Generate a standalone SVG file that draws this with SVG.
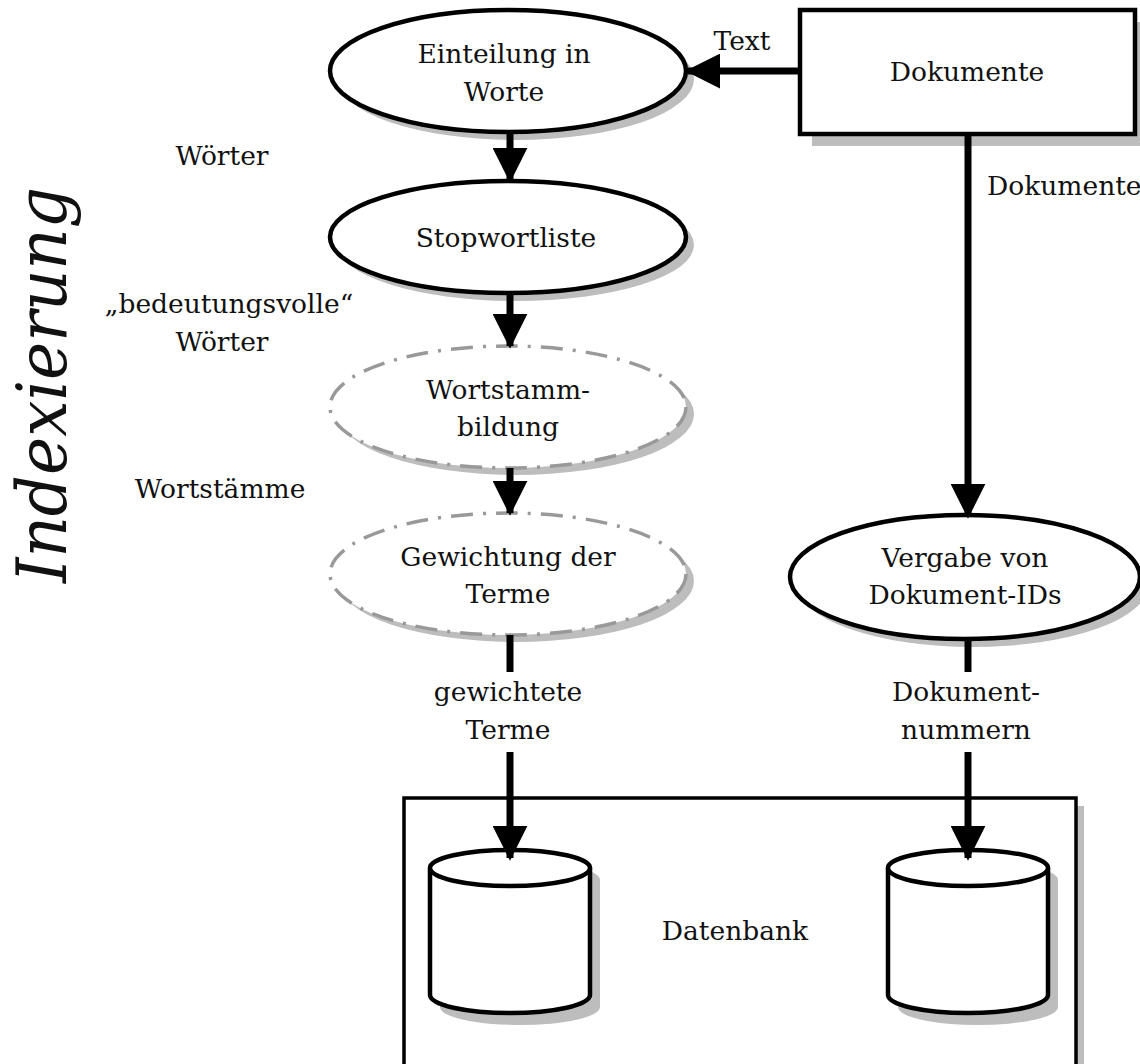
<svg xmlns="http://www.w3.org/2000/svg" width="1140" height="1064" viewBox="0 0 1140 1064">
  <style>
    text { font-family: "DejaVu Serif", "Liberation Serif", serif; font-size: 26.5px; fill: #111; text-anchor: middle; }
    .shadow { fill: #bdbdbd; stroke: none; }
    .solid { fill: #fff; stroke: #000; stroke-width: 4.5; }
    .dashed { fill: #fff; stroke: #999; stroke-width: 3.5; stroke-dasharray: 22 10 3 10; }
    .flow { stroke: #000; stroke-width: 7; fill: none; }
    .title { font-style: italic; font-size: 70px; fill: #111; }
  </style>
  <defs>
    <marker id="head" markerWidth="5" markerHeight="5" refX="4.6" refY="2.5" orient="auto" markerUnits="strokeWidth">
      <path d="M0,0 L5,2.5 L0,5 Z" fill="#000"/>
    </marker>
  </defs>

  <rect width="1140" height="1064" fill="#fff"/>

  <!-- side title -->
  <text class="title" transform="translate(66,385) rotate(-90)" textLength="396" lengthAdjust="spacingAndGlyphs">Indexierung</text>

  <!-- database container -->
  <g id="datenbank">
    <rect class="shadow" x="412" y="806" width="672" height="270"/>
    <rect x="404" y="798" width="672" height="280" fill="#fff" stroke="#000" stroke-width="3.5"/>
    <text x="735" y="940">Datenbank</text>
  </g>

  <g id="speicher-terme">
    <path class="shadow" d="M440,880 A80,18 0 0 1 600,880 V1007 A80,18 0 0 1 440,1007 Z"/>
    <path class="solid" d="M430,868 V995 A80,18 0 0 0 590,995 V868"/>
    <ellipse class="solid" cx="510" cy="868" rx="80" ry="18"/>
  </g>

  <g id="speicher-nummern">
    <path class="shadow" d="M898,880 A80,18 0 0 1 1058,880 V1007 A80,18 0 0 1 898,1007 Z"/>
    <path class="solid" d="M888,868 V995 A80,18 0 0 0 1048,995 V868"/>
    <ellipse class="solid" cx="968" cy="868" rx="80" ry="18"/>
  </g>

  <g id="dokumente">
    <rect class="shadow" x="812" y="22" width="335" height="124"/>
    <rect class="solid" x="800" y="10" width="335" height="124"/>
    <text x="967" y="81">Dokumente</text>
  </g>

  <g id="einteilung">
    <ellipse class="shadow" cx="516" cy="79" rx="178" ry="61"/>
    <ellipse class="solid" cx="508" cy="71" rx="178" ry="61"/>
    <text x="504" y="63">Einteilung in</text>
    <text x="504" y="101">Worte</text>
  </g>

  <g id="stopwortliste">
    <ellipse class="shadow" cx="516" cy="245" rx="178" ry="56"/>
    <ellipse class="solid" cx="508" cy="237" rx="178" ry="56"/>
    <text x="506" y="247">Stopwortliste</text>
  </g>

  <g id="wortstammbildung">
    <ellipse class="shadow" cx="516" cy="414" rx="178" ry="61"/>
    <ellipse class="dashed" cx="508" cy="407" rx="178" ry="61"/>
    <text x="508" y="399">Wortstamm-</text>
    <text x="508" y="436">bildung</text>
  </g>

  <g id="gewichtung">
    <ellipse class="shadow" cx="516" cy="581" rx="178" ry="61"/>
    <ellipse class="dashed" cx="508" cy="574" rx="178" ry="61"/>
    <text x="508" y="566">Gewichtung der</text>
    <text x="508" y="603">Terme</text>
  </g>

  <g id="vergabe">
    <ellipse class="shadow" cx="973" cy="585" rx="175" ry="62"/>
    <ellipse class="solid" cx="965" cy="577" rx="175" ry="62"/>
    <text x="965" y="567">Vergabe von</text>
    <text x="965" y="604">Dokument-IDs</text>
  </g>

  <!-- connectors -->
  <g id="connectors">
    <line class="flow" x1="800" y1="71" x2="688" y2="71" marker-end="url(#head)"/>
    <line class="flow" x1="510" y1="132" x2="510" y2="180" marker-end="url(#head)"/>
    <line class="flow" x1="510" y1="293" x2="510" y2="346" marker-end="url(#head)"/>
    <line class="flow" x1="510" y1="468" x2="510" y2="513" marker-end="url(#head)"/>
    <line class="flow" x1="510" y1="635" x2="510" y2="672"/>
    <line class="flow" x1="510" y1="752" x2="510" y2="858" marker-end="url(#head)"/>
    <line class="flow" x1="968" y1="134" x2="968" y2="516" marker-end="url(#head)"/>
    <line class="flow" x1="968" y1="639" x2="968" y2="672"/>
    <line class="flow" x1="968" y1="752" x2="968" y2="858" marker-end="url(#head)"/>
  </g>

  <!-- edge labels -->
  <g id="labels">
    <text x="742" y="50">Text</text>
    <text x="222" y="165">Wörter</text>
    <text x="229" y="313">„bedeutungsvolle“</text>
    <text x="222" y="351">Wörter</text>
    <text x="220" y="498">Wortstämme</text>
    <text x="508" y="701">gewichtete</text>
    <text x="508" y="739">Terme</text>
    <text x="987" y="195" style="text-anchor:start">Dokumente</text>
    <text x="966" y="701">Dokument-</text>
    <text x="966" y="739">nummern</text>
  </g>
</svg>
